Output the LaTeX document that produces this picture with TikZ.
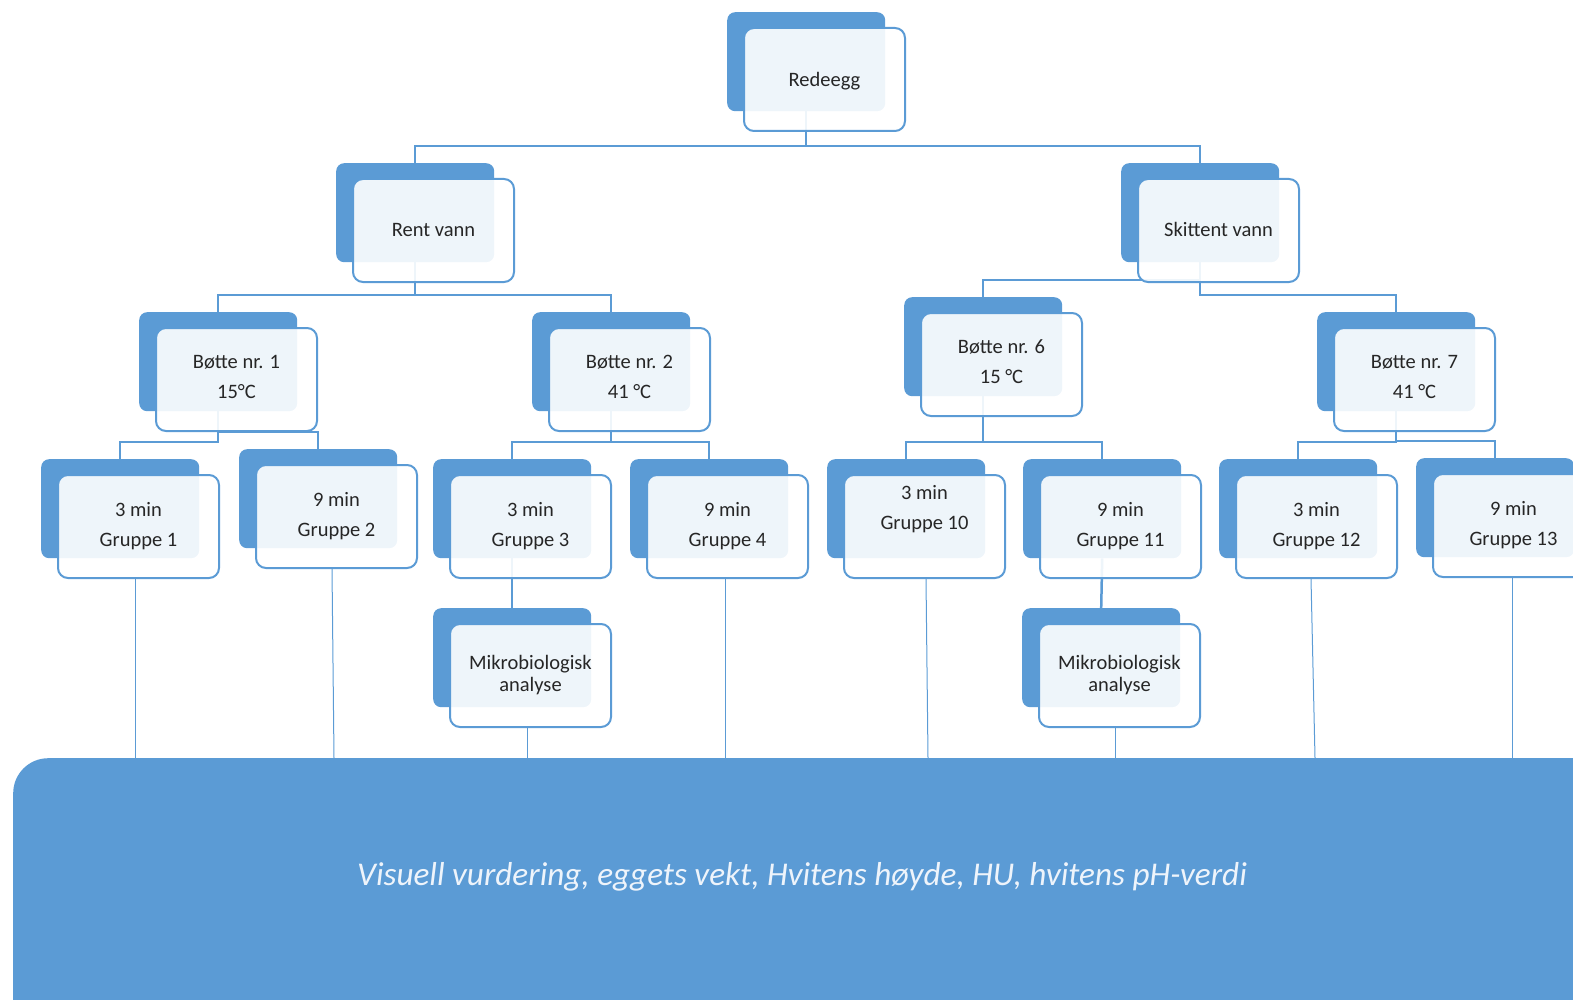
\documentclass[tikz,border=0pt]{standalone}
\usepackage{fontspec}
\setmainfont{Carlito}
\definecolor{mblue}{HTML}{5B9BD5}
\definecolor{ltext}{HTML}{262626}
\definecolor{btext}{HTML}{EEF4FB}
\pgfdeclarelayer{background}
\pgfsetlayers{background,main}
\tikzset{
  backbox/.style={fill=mblue, rounded corners=8pt, minimum width=158pt, minimum height=99pt, anchor=north west, inner sep=0pt},
  frontbox/.style={draw=mblue, line width=2pt, fill=white, fill opacity=0.9, rounded corners=10pt, minimum width=161pt, minimum height=103pt, anchor=north west, inner sep=0pt},
  lbl/.style={text=ltext, align=center, font=\fontsize{20.5}{22}\selectfont},
  conn/.style={draw=mblue, line width=2.5pt},
  thinconn/.style={draw=mblue, line width=1pt},
  bigbox/.style={fill=mblue, rounded corners=35pt, minimum width=1600pt, minimum height=320pt, anchor=north west, inner sep=0pt},
  bigtext/.style={text=btext, font=\itshape\fontsize{33.2}{38}\selectfont},
}
% name, x, y (back top-left), text, text vertical shift
\newcommand{\ebox}[5]{%
  \node[backbox] (#1B) at (#2,#3) {};
  \node[frontbox] (#1F) at (#2+16,#3+15) {};
  \node[lbl] (#1T) at ([yshift=#5]#1F.center) {#4};
}
\newcommand{\tconn}[2]{%
  \draw[conn] (#1B.south) |- ([yshift=17pt]#2B.north) -- (#2B.north);
}
\newcommand{\dconn}[3]{%
  \draw[thinconn] ([xshift=#2]#1F.south) -- ([xshift=#3]#1F.south |- big.north);
}
\begin{document}
\begin{tikzpicture}[x=1pt,y=-1pt]
\path[use as bounding box, clip] (0,0) rectangle (1573,1000);

\ebox{r}{727}{12}{Redeegg}{-2pt}
\ebox{rv}{336}{163}{Rent vann}{1pt}
\ebox{sv}{1121}{163}{Skittent vann}{1pt}
\ebox{ba}{139}{312}{Bøtte nr. 1\\[8pt]15°C}{3pt}
\ebox{bb}{532}{312}{Bøtte nr. 2\\[8pt]41 °C}{3pt}
\ebox{bc}{904}{297}{Bøtte nr. 6\\[8pt]15 °C}{3pt}
\ebox{bd}{1317}{312}{Bøtte nr. 7\\[8pt]41 °C}{3pt}
\ebox{ga}{41}{459}{3 min\\[8pt]Gruppe 1}{0pt}
\ebox{gb}{239}{449}{9 min\\[8pt]Gruppe 2}{0pt}
\ebox{gc}{433}{459}{3 min\\[8pt]Gruppe 3}{0pt}
\ebox{gd}{630}{459}{9 min\\[8pt]Gruppe 4}{0pt}
\ebox{ge}{827}{459}{3 min\\[8pt]Gruppe 10}{17pt}
\ebox{gf}{1023}{459}{9 min\\[8pt]Gruppe 11}{0pt}
\ebox{gg}{1219}{459}{3 min\\[8pt]Gruppe 12}{0pt}
\ebox{gh}{1416}{458}{9 min\\[8pt]Gruppe 13}{0pt}
\ebox{ma}{433}{608}{Mikrobiologisk\\analyse}{0pt}
\ebox{mb}{1022}{608}{Mikrobiologisk\\analyse}{0pt}

\node[bigbox] (big) at (13,758) {};
\node[bigtext] (bigT) at (802,877) {Visuell vurdering, eggets vekt, Hvitens høyde, HU, hvitens pH-verdi};

\begin{pgfonlayer}{background}
\tconn{r}{rv}
\tconn{r}{sv}
\tconn{rv}{ba}
\tconn{rv}{bb}
\tconn{sv}{bc}
\tconn{sv}{bd}
\tconn{ba}{ga}
\tconn{ba}{gb}
\tconn{bb}{gc}
\tconn{bb}{gd}
\tconn{bc}{ge}
\tconn{bc}{gf}
\tconn{bd}{gg}
\tconn{bd}{gh}
\draw[conn] (gcB.south) -- (maB.north);
\draw[conn] (gfB.south) -- (mbB.north);
\dconn{ga}{-3.5pt}{-3.5pt}
\dconn{gb}{-4.5pt}{-2.5pt}
\dconn{ma}{-3.5pt}{-3.5pt}
\dconn{gd}{-2.5pt}{-2.5pt}
\dconn{ge}{1.5pt}{3.5pt}
\dconn{mb}{-4.5pt}{-4.5pt}
\dconn{gg}{-5.5pt}{-1.5pt}
\dconn{gh}{-1.5pt}{-1.5pt}
\end{pgfonlayer}
\end{tikzpicture}
\end{document}
